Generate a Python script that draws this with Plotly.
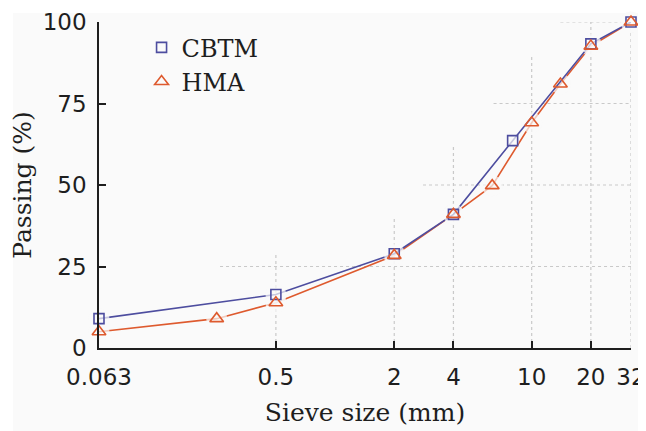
import plotly.graph_objects as go

# ---- data ----
sieve_cbtm = [0.063, 0.5, 2, 4, 8, 20, 32]
passing_cbtm = [9.0, 16.4, 28.9, 41.0, 63.6, 93.3, 100.0]
sieve_hma = [0.063, 0.25, 0.5, 2, 4, 6.3, 10, 14, 20, 32]
passing_hma = [5.0, 9.0, 13.9, 28.4, 41.0, 49.8, 69.1, 81.0, 92.6, 100.0]
x_ticks = [0.063, 0.5, 2, 4, 10, 20, 32]
x_tick_labels = ["0.063", "0.5", "2", "4", "10", "20", "32"]
y_ticks = [0, 25, 50, 75, 100]

# partial (staircase) grid extents – styling
grid_h_y = [25, 50, 75, 100]
grid_h_from = [0.26, 2.8, 6.4, 14]
grid_v_x = [0.5, 2, 4, 10, 20, 32]
grid_v_to = [29, 40, 61.7, 90, 102, 98]

# halo (line gap) sizes per point – styling
halo_cbtm = [21, 21, 21, 21, 13, 21, 21]
halo_hma = [21, 21, 21, 21, 21, 21, 21, 21, 21, 21]

BLUE = "#4d4d9f"
ORANGE = "#de5a2e"
BG = "#fafafa"
INK = "#1e1e1e"

W, H = 638, 423
ML, MR, MT, MB = 91, 15, 14, 83
PW, PH = W - ML - MR, H - MT - MB

fig = go.Figure()

# grid lines
for yv, xs in zip(grid_h_y, grid_h_from):
    fig.add_trace(go.Scatter(x=[xs, 40], y=[yv, yv], mode="lines",
                             line=dict(color="#c9c9c9", width=1.2, dash="dot"),
                             hoverinfo="skip", showlegend=False))
for xv, ye in zip(grid_v_x, grid_v_to):
    fig.add_trace(go.Scatter(x=[xv, xv], y=[0, ye], mode="lines",
                             line=dict(color="#c9c9c9", width=1.2, dash="dot"),
                             hoverinfo="skip", showlegend=False))

# HMA line with background-coloured halo markers (gap around points)
fig.add_trace(go.Scatter(x=sieve_hma, y=passing_hma, mode="lines+markers",
                         line=dict(color=ORANGE, width=1.6),
                         marker=dict(symbol="circle", size=halo_hma, color=BG, line=dict(width=0)),
                         cliponaxis=False, hoverinfo="skip", showlegend=False))
# CBTM line with halo markers
fig.add_trace(go.Scatter(x=sieve_cbtm, y=passing_cbtm, mode="lines+markers",
                         line=dict(color=BLUE, width=1.6),
                         marker=dict(symbol="circle", size=halo_cbtm, color=BG, line=dict(width=0)),
                         cliponaxis=False, hoverinfo="skip", showlegend=False))

# markers (legend)
fig.add_trace(go.Scatter(x=sieve_cbtm, y=passing_cbtm, mode="markers", name="CBTM",
                         marker=dict(symbol="square-open", size=10, color=BLUE,
                                     line=dict(width=1.6, color=BLUE)),
                         cliponaxis=False))
fig.add_trace(go.Scatter(x=sieve_hma, y=passing_hma, mode="markers", name="HMA",
                         marker=dict(symbol="triangle-up-open", size=12, color=ORANGE,
                                     line=dict(width=1.6, color=ORANGE)),
                         cliponaxis=False))

fig.update_layout(
    width=W, height=H,
    margin=dict(l=ML, r=MR, t=MT, b=MB, autoexpand=False),
    paper_bgcolor=BG, plot_bgcolor=BG,
    showlegend=True,
    legend=dict(x=0.08, y=0.99, xanchor="left", yanchor="top",
                bgcolor="rgba(0,0,0,0)", borderwidth=0,
                font=dict(family="DejaVu Serif", size=24, color=INK),
                traceorder="normal", itemwidth=30, tracegroupgap=0),
    shapes=[
        dict(type="rect", xref="paper", yref="paper", x0=-0.3, x1=(5 - ML) / PW,
             y0=-0.4, y1=1.2, fillcolor="white", line=dict(width=0), layer="below"),
        dict(type="rect", xref="paper", yref="paper", x0=-0.3, x1=1.2,
             y0=(PH + MT - 5) / PH, y1=1.2, fillcolor="white", line=dict(width=0), layer="below"),
    ],
)

fig.update_xaxes(
    type="log", range=[-1.2006594505464183, 1.505149978319906],
    tickvals=x_ticks, ticktext=x_tick_labels,
    ticks="inside", ticklen=7, tickwidth=1.5, tickcolor=INK,
    showline=True, linecolor=INK, linewidth=1.5, mirror=False,
    showgrid=False, zeroline=False, automargin=False,
    tickfont=dict(family="DejaVu Sans", size=23, color=INK),
    ticklabelstandoff=8,
    title=dict(text="Sieve size (mm)", font=dict(family="DejaVu Serif", size=25, color=INK),
               standoff=14),
)
fig.update_yaxes(
    range=[0, 100], tickvals=y_ticks,
    ticks="inside", ticklen=7, tickwidth=1.5, tickcolor=INK,
    showline=True, linecolor=INK, linewidth=1.5, mirror=False,
    showgrid=False, zeroline=False, automargin=False,
    tickfont=dict(family="DejaVu Sans", size=23, color=INK),
    ticklabelstandoff=6,
    title=dict(text="Passing (%)", font=dict(family="DejaVu Serif", size=25, color=INK),
               standoff=6),
)

fig.write_html("out.html")
